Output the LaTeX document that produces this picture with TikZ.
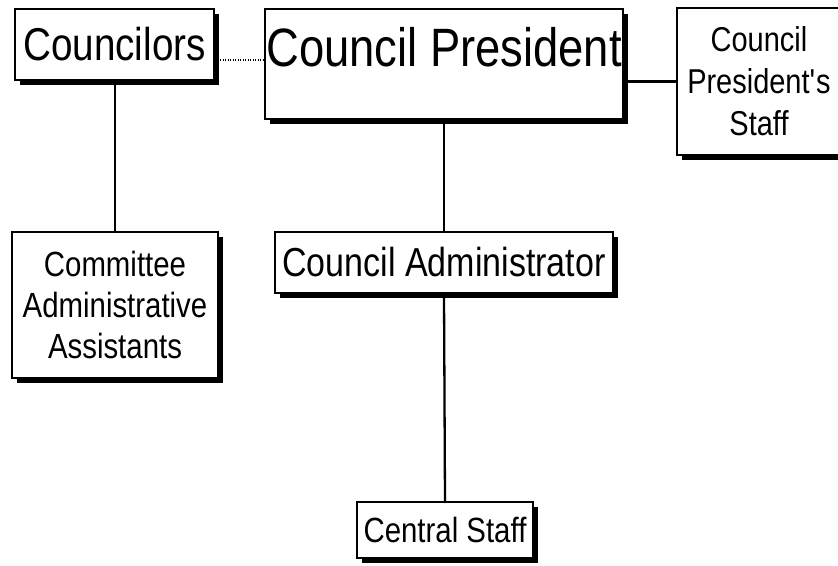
\documentclass[tikz,border=0pt]{standalone}
\usepackage{fontspec}
\setmainfont{Liberation Sans}[FakeStretch=0.84]
\usetikzlibrary{shadows}

\begin{document}
\begin{tikzpicture}[
    x=1pt, y=-1pt,
    orgbox/.style={draw, fill=white, line width=2.3pt, inner sep=0pt, align=center,
        drop shadow={shadow xshift=5pt, shadow yshift=-5pt, fill=black, opacity=1}},
    orgline/.style={line width=2.3pt},
    orgdotted/.style={line width=2.3pt, dash pattern=on 1.3pt off 1.2pt}
]
\useasboundingbox (0,0) rectangle (838,565);

% --- Top row ---
\node[orgbox, minimum width=199pt, minimum height=71pt,
      font=\fontsize{46}{50}\selectfont] (councilors) at (114.5,44.5) {Councilors};
\node[orgbox, anchor=north, minimum width=358pt, text height=57pt, text depth=53pt,
      font=\fontsize{54}{60}\selectfont] (president) at (444,8) {Council President};
\node[orgbox, minimum width=164pt, minimum height=147pt,
      font=\fontsize{34.5}{42}\selectfont] (presstaff) at (759,81.5)
      {Council\\President\textquotesingle s\\Staff};

% --- Lower boxes ---
\node[orgbox, minimum width=206pt, minimum height=146pt,
      font=\fontsize{35}{41}\selectfont] (committee) at (115,305) {Committee\\Administrative\\Assistants};
\node[orgbox, minimum width=338pt, minimum height=61pt,
      font=\fontsize{40.5}{46}\selectfont] (admin) at (444,262.5) {Council Administrator};
\node[orgbox, minimum width=176pt, minimum height=56pt,
      font=\fontsize{35}{40}\selectfont] (central) at (445,530) {Central Staff};

% --- Connectors ---
\coordinate (dotlevel) at (0,60);
\draw[orgdotted] (councilors.east |- dotlevel) -- (president.west |- dotlevel);
\draw[orgline] (presstaff.west) -- (presstaff.west -| president.east);
\draw[orgline] (committee.north) -- (committee.north |- councilors.south);
\draw[orgline] (admin.north) -- (admin.north |- president.south);
\draw[orgline] (admin.south) -- (central.north);

\end{tikzpicture}
\end{document}
